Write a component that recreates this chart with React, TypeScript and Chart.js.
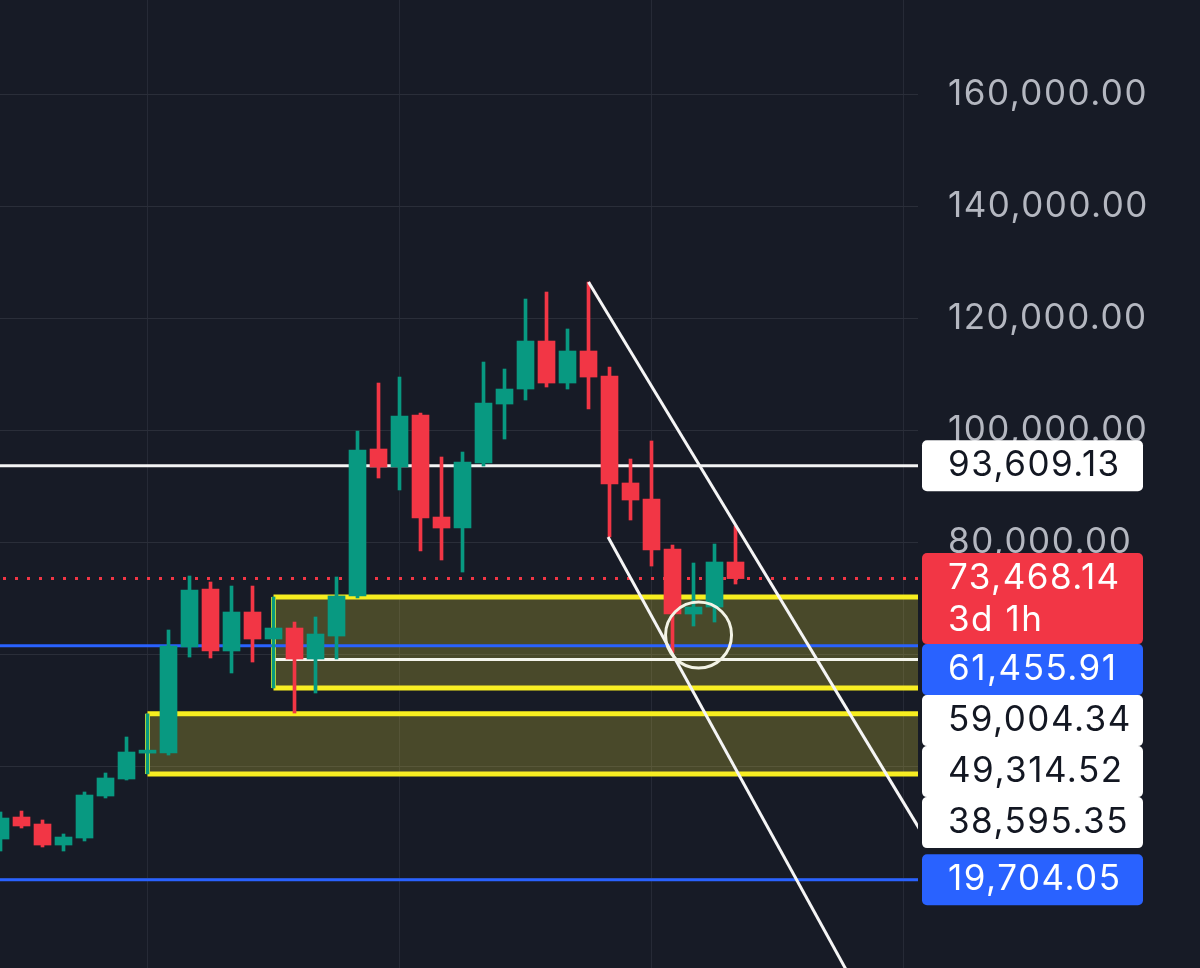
import React, { useEffect, useRef } from "react";
import { Chart, registerables } from "chart.js";

Chart.register(...registerables);

// ---- data (USD) ----
const opens = [26960, 30890, 29640, 25890, 27140, 34640, 37680, 42300, 42320, 61250, 71610, 60540, 67500, 62680, 64640, 59110, 63210, 70360, 96610, 93390, 102680, 84460, 82500, 94110, 104640, 107320, 115890, 108390, 114110, 109640, 90540, 87680, 78750, 67140, 68390, 76430];
const highs = [31790, 31960, 30360, 27860, 35360, 38750, 45180, 49314.52, 64290, 73930, 72860, 72140, 72140, 70180, 65710, 66610, 73750, 99820, 108390, 109460, 103040, 95180, 96070, 112140, 110890, 123390, 124640, 118040, 126430, 111250, 94820, 98040, 79460, 76250, 79640, 82860];
const lows = [24820, 28930, 25540, 24820, 26610, 34290, 37500, 38595.35, 41960, 59460, 59290, 56610, 58570, 53930, 49460, 53040, 59110, 70000, 91430, 89290, 78390, 76790, 74640, 93570, 98390, 105360, 107680, 107320, 103750, 80890, 83930, 75710, 60180, 65000, 65710, 72500];
const closes = [30710, 29290, 25890, 27320, 34820, 37860, 42500, 42650, 61430, 71430, 60540, 67500, 62680, 64640, 59110, 63570, 70360, 96430, 93390, 102500, 84290, 82500, 94290, 104820, 107320, 115890, 108390, 114110, 109460, 90360, 87500, 78570, 67140, 68390, 76430, 73468.14];

const yTicks = [20000, 40000, 60000, 80000, 100000, 120000, 140000, 160000];
const xGridTicks = [7, 19, 31, 43];

// horizontal levels
const whiteLevel = 93609.13;
const blueLevels = [61455.91, 19704.05];
const lastPrice = 73468.14;
const midLevel = 59004.34; // white line inside upper zone
const midLevelStart = 13;

// zones: start index, top, bottom
const zoneStarts = [13, 7];
const zoneTops = [70180, 49314.52];
const zoneBottoms = [53930, 38595.35];

// trend lines
const upperTrend = [{ x: 28, y: 126430 }, { x: 46, y: 14880 }];
const lowerTrend = [{ x: 28.93, y: 80900 }, { x: 42, y: -8200 }];

// circle marker
const circlePoint = [{ x: 33.24, y: 63390 }];

// price labels on the axis
const labelPrices = [93609.13, 73468.14, 61455.91, 59004.34, 49314.52, 38595.35, 19704.05];
const labelKinds = ["white", "red", "blue", "white", "white", "white", "blue"];
const labelSub = ["", "3d 1h", "", "", "", "", ""];

const X_MIN = -0.024;
const X_MAX = 43.69;
const Y_MIN = 3930;
const Y_MAX = 176790;

const GREEN = "#089981";
const RED = "#f23645";
const BLUE = "#2962ff";
const YELLOW = "#f7ee1f";
const BG = "#171b26";
const FONT = "Inter";

const fmt = (v: number) =>
  v.toLocaleString("en-US", { minimumFractionDigits: 2, maximumFractionDigits: 2 });

export default function App() {
  const ref = useRef<HTMLCanvasElement | null>(null);

  useEffect(() => {
    const canvas = ref.current;
    if (!canvas) return;

    const up = closes.map((c, i) => c >= opens[i]);
    const colors = up.map((u) => (u ? GREEN : RED));

    const hline = (y: number, x0 = X_MIN - 1, x1 = X_MAX + 2) => [
      { x: x0, y },
      { x: x1, y },
    ];

    const datasets: any[] = [];

    // zones
    zoneStarts.forEach((s, k) => {
      datasets.push({
        type: "line",
        data: hline(zoneTops[k], s),
        borderColor: YELLOW,
        borderWidth: 5,
        pointRadius: 0,
        fill: { value: zoneBottoms[k] },
        backgroundColor: "rgba(255,238,60,0.22)",
        order: 30,
      });
      datasets.push({
        type: "line",
        data: hline(zoneBottoms[k], s),
        borderColor: YELLOW,
        borderWidth: 5,
        pointRadius: 0,
        fill: false,
        order: 30,
      });
      datasets.push({
        type: "line",
        data: [
          { x: s, y: zoneTops[k] },
          { x: s, y: zoneBottoms[k] },
        ],
        borderColor: YELLOW,
        borderWidth: 5,
        pointRadius: 0,
        fill: false,
        order: 30,
      });
    });

    // horizontal levels
    datasets.push({
      type: "line",
      data: hline(whiteLevel),
      borderColor: "#f4f4f4",
      borderWidth: 3,
      pointRadius: 0,
      fill: false,
      order: 20,
    });
    datasets.push({
      type: "line",
      data: hline(midLevel, midLevelStart),
      borderColor: "#f4f4ec",
      borderWidth: 3,
      pointRadius: 0,
      fill: false,
      order: 20,
    });
    blueLevels.forEach((b) =>
      datasets.push({
        type: "line",
        data: hline(b),
        borderColor: BLUE,
        borderWidth: 3,
        pointRadius: 0,
        fill: false,
        order: 20,
      })
    );
    datasets.push({
      type: "line",
      data: hline(lastPrice),
      borderColor: RED,
      borderWidth: 3,
      borderDash: [3, 9],
      pointRadius: 0,
      fill: false,
      order: 20,
    });

    // candles
    datasets.push({
      type: "bar",
      data: highs.map((h, i) => ({ x: i, y: [lows[i], h] })),
      backgroundColor: colors,
      barThickness: 3,
      grouped: false,
      borderWidth: 0,
      order: 11,
    });
    datasets.push({
      type: "bar",
      data: opens.map((o, i) => ({ x: i, y: [o, closes[i]] })),
      backgroundColor: colors,
      barThickness: 17,
      grouped: false,
      borderWidth: 0,
      minBarLength: 3,
      order: 10,
    });

    // trend lines
    [upperTrend, lowerTrend].forEach((t) =>
      datasets.push({
        type: "line",
        data: t,
        borderColor: "#f5f5f5",
        borderWidth: 3,
        pointRadius: 0,
        fill: false,
        order: 2,
      })
    );

    // circle
    datasets.push({
      type: "scatter",
      data: circlePoint,
      pointRadius: 33,
      pointBorderWidth: 3,
      pointBorderColor: "#f3f3e6",
      pointBackgroundColor: "rgba(0,0,0,0)",
      order: 1,
    });

    const bgPlugin = {
      id: "bg",
      beforeDraw(chart: any) {
        const ctx = chart.ctx;
        ctx.save();
        ctx.fillStyle = BG;
        ctx.fillRect(0, 0, chart.width, chart.height);
        ctx.restore();
        (ctx as any).letterSpacing = "1.5px";
      },
    };

    const labelPlugin = {
      id: "priceLabels",
      afterDraw(chart: any) {
        const ctx = chart.ctx;
        const ys = chart.scales.y;
        const left = chart.chartArea.right + 4;
        const w = 221;
        const items = labelPrices
          .map((p, i) => ({ p, i, y: ys.getPixelForValue(p) }))
          .sort((a, b) => a.y - b.y);
        let prevBottom = -Infinity;
        ctx.save();
        (ctx as any).letterSpacing = "1.5px";
        items.forEach((it) => {
          const kind = labelKinds[it.i];
          const sub = labelSub[it.i];
          const h = sub ? 91 : 51;
          const top = Math.max(it.y - 25.5, prevBottom);
          prevBottom = top + h;
          ctx.fillStyle = kind === "white" ? "#ffffff" : kind === "red" ? RED : BLUE;
          ctx.beginPath();
          (ctx as any).roundRect(left, top, w, h, 5);
          ctx.fill();
          ctx.fillStyle = kind === "white" ? "#131722" : "#ffffff";
          ctx.font = `35px ${FONT}`;
          ctx.textAlign = "left";
          ctx.textBaseline = "middle";
          ctx.fillText(fmt(it.p), 948, top + 25.5);
          if (sub) ctx.fillText(sub, 948, top + 67);
        });
        ctx.restore();
      },
    };

    const zeroPad = (scale: any) => {
      scale.paddingLeft = 0;
      scale.paddingRight = 0;
      scale.paddingTop = 0;
      scale.paddingBottom = 0;
    };

    const chart = new Chart(canvas, {
      type: "bar",
      data: { datasets },
      options: {
        animation: false,
        responsive: false,
        maintainAspectRatio: false,
        layout: { padding: 0, autoPadding: false },
        plugins: { legend: { display: false }, tooltip: { enabled: false } },
        scales: {
          x: {
            type: "linear",
            min: X_MIN,
            max: X_MAX,
            offset: false,
            grid: { color: "#262a36", lineWidth: 1, drawTicks: false, offset: false },
            border: { display: false },
            ticks: { display: false },
            afterBuildTicks: (scale: any) => {
              scale.ticks = xGridTicks.map((v) => ({ value: v }));
            },
            afterFit: (scale: any) => {
              scale.height = 0;
              zeroPad(scale);
            },
          },
          y: {
            type: "linear",
            position: "right",
            min: Y_MIN,
            max: Y_MAX,
            grid: { color: "#2a2e39", lineWidth: 1, drawTicks: false },
            border: { display: false },
            afterBuildTicks: (scale: any) => {
              scale.ticks = yTicks.map((v) => ({ value: v }));
            },
            afterFit: (scale: any) => {
              scale.width = 282;
              zeroPad(scale);
            },
            ticks: {
              padding: 30,
              color: "#b4b7c0",
              font: { family: FONT, size: 35 },
              autoSkip: false,
              callback: (v: any) => (Number(v) >= 80000 ? fmt(Number(v)) : ""),
            },
          },
        },
      },
      plugins: [bgPlugin, labelPlugin],
    } as any);

    return () => chart.destroy();
  }, []);

  return (
    <div style={{ position: "fixed", left: 0, top: 0, width: 1200, height: 968, background: BG }}>
      <canvas ref={ref} width={1200} height={968} style={{ display: "block" }} />
    </div>
  );
}
